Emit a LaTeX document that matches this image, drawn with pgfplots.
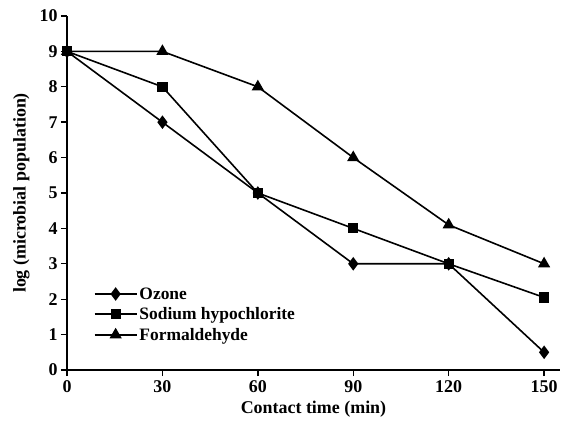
\documentclass[border=0pt]{standalone}
\usepackage{fontspec}
\setmainfont{Liberation Serif}
\usepackage{pgfplots}
\pgfplotsset{compat=1.18}
\begin{document}
\begin{tikzpicture}
\begin{axis}[
  scale only axis,
  width=493bp, height=354bp,
  xmin=0, xmax=155, ymin=0, ymax=10,
  xtick={0,30,60,90,120,150},
  ytick={0,1,...,10},
  axis x line*=bottom, axis y line*=left,
  axis line style={line width=1.6bp,-},
  tick style={line width=1.4bp,black},
  tick align=outside,
  major tick length=6bp,
  tick label style={font=\fontsize{18}{20}\selectfont\bfseries},
  xticklabel style={yshift=-1bp},
  /pgf/number format/assume math mode=true,
  xlabel={Contact time (min)},
  ylabel={log (microbial population)},
  label style={font=\fontsize{18}{20}\selectfont\bfseries},
  xlabel style={yshift=-2bp},
  ylabel style={yshift=3bp},
  every axis plot/.append style={line width=1.6bp, black},
  legend style={at={(rel axis cs:0.048,0.245)}, anchor=north west, draw=none, fill=none,
    font=\fontsize{17.5}{20}\selectfont\bfseries, row sep=3bp},
  legend cell align=left,
  legend image code/.code={\draw[line width=1.6bp,mark repeat=2,mark phase=2,#1] plot coordinates {(0bp,0bp) (21bp,0bp) (42bp,0bp)};},
  clip=false,
]
\addplot[mark=diamond*, mark size=5.5bp] coordinates {(0,9) (30,7) (60,5) (90,3) (120,3) (150,0.5)};
\addlegendentry{Ozone}
\addplot[mark=square*, mark size=4.3bp] coordinates {(0,9) (30,8) (60,5) (90,4) (120,3) (150,2.05)};
\addlegendentry{Sodium hypochlorite}
\addplot[mark=triangle*, mark size=5.5bp] coordinates {(0,9) (30,9) (60,8) (90,6) (120,4.1) (150,3)};
\addlegendentry{Formaldehyde}
\path (rel axis cs:0,0) ++(-67bp,-64bp) coordinate (bl);
\path (rel axis cs:1,1) ++(4bp,16bp) coordinate (tr);
\end{axis}
\pgfresetboundingbox
\path[use as bounding box] (bl) rectangle (tr);
\end{tikzpicture}
\end{document}
